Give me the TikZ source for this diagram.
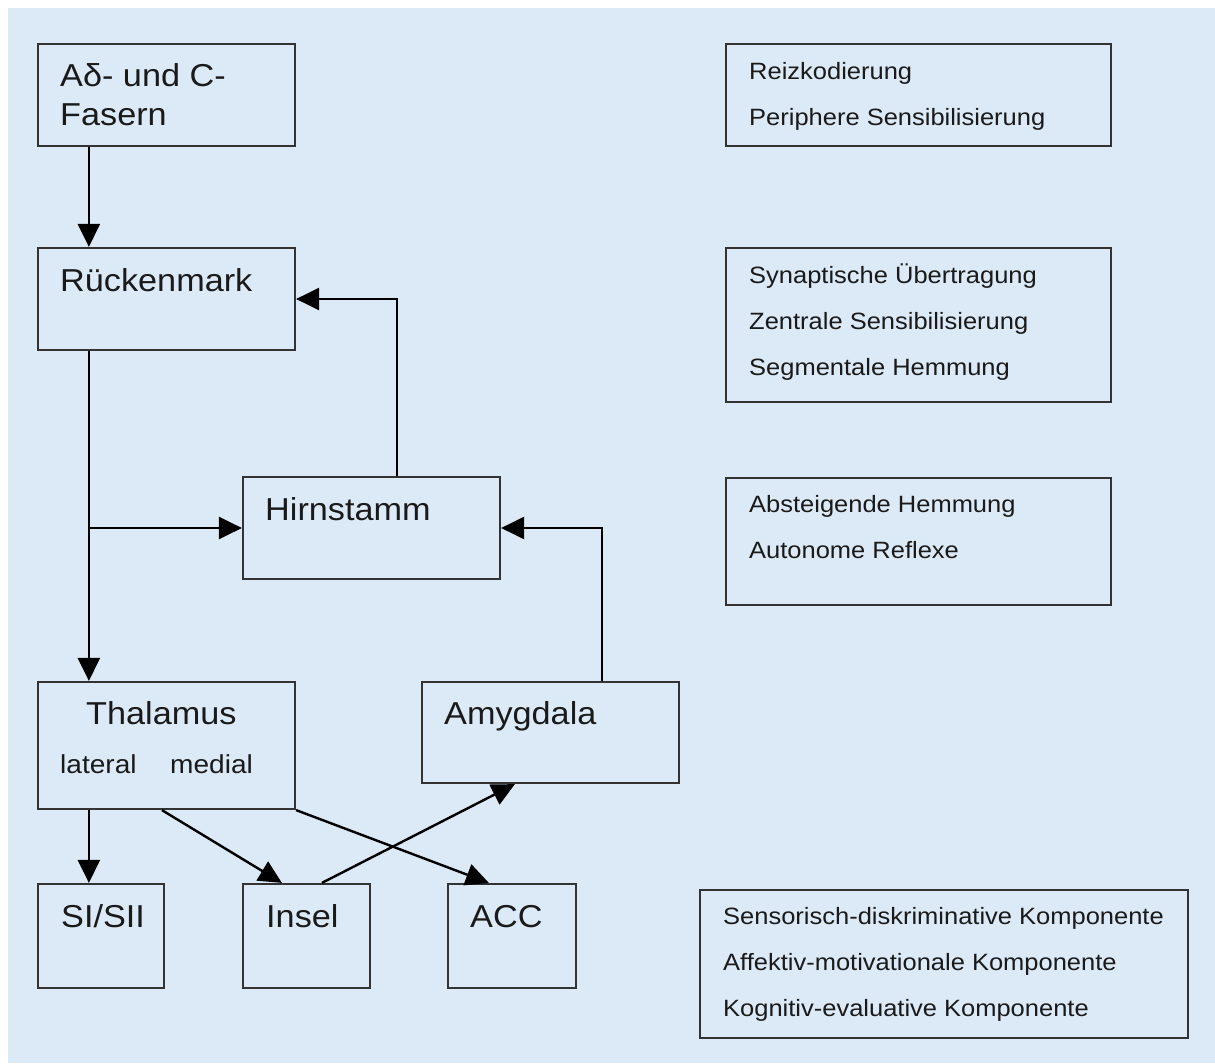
\documentclass[tikz,border=0pt]{standalone}
\usepackage{fontspec}
\setmainfont{Liberation Sans}[FakeStretch=1.08]
\usetikzlibrary{arrows.meta}
\definecolor{bgblue}{HTML}{DCEAF7}
\definecolor{boxline}{HTML}{333333}
\definecolor{txt}{HTML}{1A1A1A}
\begin{document}
\begin{tikzpicture}[x=1pt,y=-1pt,
  box/.style={draw=boxline, line width=2.2pt, rectangle, inner sep=0pt},
  big/.style={anchor=base west, inner sep=0pt, text=txt, font=\fontsize{31.7}{38}\selectfont},
  mid/.style={anchor=base west, inner sep=0pt, text=txt, font=\fontsize{26}{30}\selectfont},
  small/.style={anchor=base west, inner sep=0pt, text=txt, font=\fontsize{23.6}{28}\selectfont},
  arr/.style={draw=black, line width=2.4pt, -{Triangle[length=23pt,width=22pt]}}]
\useasboundingbox (0,0) rectangle (1215,1063);
\fill[bgblue] (8,8) rectangle (1215,1063);
% left boxes
\node[box, minimum width=257pt, minimum height=102pt] (af) at (166.5,95) {};
\node[box, minimum width=257pt, minimum height=102pt] (rm) at (166.5,299) {};
\node[box, minimum width=257pt, minimum height=102pt] (hs) at (371.5,528) {};
\node[box, minimum width=257pt, minimum height=127pt] (th) at (166.5,745.5) {};
\node[box, minimum width=257pt, minimum height=101pt] (am) at (550.5,732.5) {};
\node[box, minimum width=126pt, minimum height=104pt] (si) at (101,936) {};
\node[box, minimum width=127pt, minimum height=104pt] (in) at (306.5,936) {};
\node[box, minimum width=128pt, minimum height=104pt] (acc) at (512,936) {};
% right boxes
\node[box, minimum width=385pt, minimum height=102pt] (r1) at (918.5,95) {};
\node[box, minimum width=385pt, minimum height=154pt] (r2) at (918.5,325) {};
\node[box, minimum width=385pt, minimum height=127pt] (r3) at (918.5,541.5) {};
\node[box, minimum width=488pt, minimum height=148pt] (r4) at (944,964) {};
% texts
\node[big] (t1a) at (60,86) {Aδ- und C-};
\node[big] (t1b) at (60,125) {Fasern};
\node[big] (t2) at (60,291) {Rückenmark};
\node[big] (t3) at (265,520) {Hirnstamm};
\node[big] (t4) at (86,724) {Thalamus};
\node[mid] (t4a) at (60,773) {lateral};
\node[mid] (t4b) at (170,773) {medial};
\node[big] (t5) at (444,724) {Amygdala};
\node[big] (t6) at (61,927) {SI/SII};
\node[big] (t7) at (266,927) {Insel};
\node[big] (t8) at (470,927) {ACC};
\node[small] (s1) at (749,79) {Reizkodierung};
\node[small] (s2) at (749,125) {Periphere Sensibilisierung};
\node[small] (s3) at (749,283) {Synaptische Übertragung};
\node[small] (s4) at (749,329) {Zentrale Sensibilisierung};
\node[small] (s5) at (749,375) {Segmentale Hemmung};
\node[small] (s6) at (749,512) {Absteigende Hemmung};
\node[small] (s7) at (749,558) {Autonome Reflexe};
\node[small] (s8) at (723,924) {Sensorisch-diskriminative Komponente};
\node[small] (s9) at (723,970) {Affektiv-motivationale Komponente};
\node[small] (s10) at (723,1016) {Kognitiv-evaluative Komponente};
% connectors
\coordinate (j) at ([xshift=52pt]rm.south west);
\draw[arr] ([xshift=52pt]af.south west) -- ([xshift=52pt]rm.north west);
\draw[arr] ([xshift=52pt]rm.south west) -- ([xshift=52pt]th.north west);
\draw[arr] (j |- hs.west) -- (hs.west);
\draw[arr] ([xshift=155pt]hs.north west) |- (rm.east);
\draw[arr] ([xshift=181pt]am.north west) |- (hs.east);
\draw[arr] ([xshift=52pt]th.south west) -- ([xshift=52pt]si.north west);
\draw[arr] ([xshift=125pt]th.south west) -- ([xshift=40pt]in.north west);
\draw[arr] (th.south east) -- ([xshift=42pt]acc.north west);
\draw[arr] ([xshift=80pt]in.north west) -- ([xshift=94pt]am.south west);
\end{tikzpicture}
\end{document}
